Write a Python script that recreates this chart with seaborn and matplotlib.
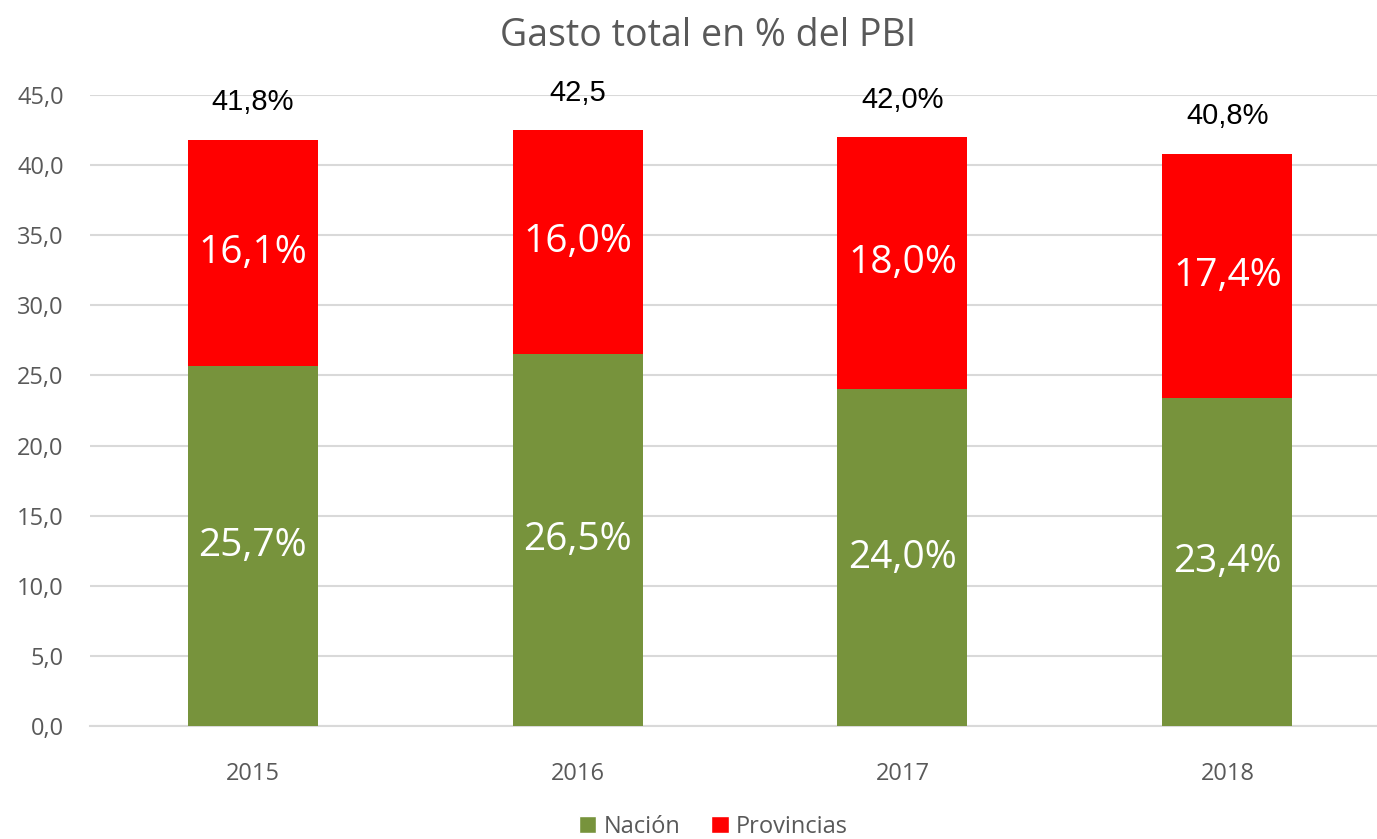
import pandas as pd
import matplotlib
matplotlib.use('Agg')
import matplotlib.pyplot as plt
import seaborn as sns
from matplotlib.patches import Patch

# values
years = ['2015', '2016', '2017', '2018']
nacion = [25.7, 26.5, 24.0, 23.4]
provincias = [16.1, 16.0, 18.0, 17.4]
top_labels = ['41,8%', '42,5', '42,0%', '40,8%']
y_ticks = [0, 5, 10, 15, 20, 25, 30, 35, 40, 45]

total = [n + p for n, p in zip(nacion, provincias)]
df = pd.DataFrame({'Año': years, 'Nación': nacion, 'Provincias': provincias, 'Total': total})

green = '#77933C'
red = '#FF0000'
grey_txt = '#595959'

sns.set_theme(style='white')
plt.rcParams['font.family'] = ['Open Sans', 'DejaVu Sans']

fig = plt.figure(figsize=(13.77, 8.39), dpi=100)
ax = fig.add_axes([0.0654, 0.1347, 0.944, 0.7521])

# stacked bars: total in red, Nación drawn over it in green
sns.barplot(data=df, x='Año', y='Total', color=red, saturation=1, width=0.4, ax=ax,
            zorder=2, linewidth=0)
sns.barplot(data=df, x='Año', y='Nación', color=green, saturation=1, width=0.4, ax=ax,
            zorder=3, linewidth=0)

ax.set_ylim(0, 45)
ax.set_yticks(y_ticks)
ax.set_yticklabels([f'{v:.1f}'.replace('.', ',') for v in y_ticks])
ax.set_xlim(-0.5, 3.5)
ax.yaxis.grid(True, color='#D9D9D9', linewidth=1.5, zorder=0)
ax.set_axisbelow(True)
for s in ['top', 'right', 'left']:
    ax.spines[s].set_visible(False)
ax.spines['bottom'].set_color('#D9D9D9')
ax.spines['bottom'].set_linewidth(1.5)
ax.tick_params(axis='both', length=0, labelsize=17, labelcolor=grey_txt)
ax.tick_params(axis='x', pad=26)
ax.tick_params(axis='y', pad=19)
ax.set_xlabel('')
ax.set_ylabel('')

# labels inside the segments
for i in range(len(years)):
    ax.text(i, nacion[i] / 2, f'{nacion[i]:.1f}%'.replace('.', ','), ha='center', va='center',
            color='white', fontsize=28, zorder=5)
    ax.text(i, nacion[i] + provincias[i] / 2, f'{provincias[i]:.1f}%'.replace('.', ','),
            ha='center', va='center', color='white', fontsize=28, zorder=5)
    ax.annotate(top_labels[i], (i, total[i]), xytext=(0, 27), textcoords='offset points',
                ha='center', va='center', fontsize=21, color='black',
                family=['Liberation Sans Narrow', 'Liberation Sans', 'DejaVu Sans'],
                annotation_clip=False, zorder=5)

fig.suptitle('Gasto total en % del PBI', x=0.514, y=0.98, fontsize=27, color=grey_txt)

handles = [Patch(facecolor=green, label='Nación'), Patch(facecolor=red, label='Provincias')]
fig.legend(handles=handles, loc='lower center', bbox_to_anchor=(0.518, -0.025), ncol=2, frameon=False,
           fontsize=17, labelcolor=grey_txt, handlelength=0.75, handleheight=0.75, handletextpad=0.3,
           columnspacing=1.3)

fig.savefig('out.png', dpi=100, facecolor='white')
